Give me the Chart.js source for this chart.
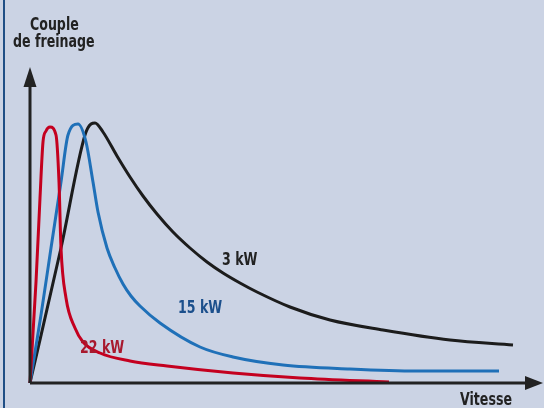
<!DOCTYPE html>
<html>
<head>
<meta charset="utf-8">
<script src="https://cdn.jsdelivr.net/npm/chart.js@4/dist/chart.umd.min.js"></script>
<style>
  html, body { margin: 0; padding: 0; background: #cbd3e4; }
  #wrap { width: 544px; height: 408px; position: relative; }
</style>
</head>
<body>
<div id="wrap"><canvas id="brakeChart" width="544" height="408"></canvas></div>
<script>
// speed / braking torque, arbitrary units
const speed22 = [0, 6, 10, 13, 16, 20, 26, 29, 31, 36, 45, 53, 70, 100, 137, 203, 270, 359];
const torque22 = [0, 101, 185, 241, 252, 256, 248, 201, 135, 85, 55, 41, 30, 22, 17, 10, 5, 1];

const speed15 = [0, 11, 21, 31, 38, 48, 56, 63, 68, 77, 85, 93, 101, 110, 130, 170, 203, 253, 320, 387, 469];
const torque15 = [0, 68, 135, 201, 248, 259, 241, 201, 171, 135, 115, 99, 87, 77, 60, 36, 26, 18, 14, 12, 12];

const speed3 = [0, 31, 55, 61, 65, 73, 87, 100, 113, 127, 143, 160, 177, 193, 210, 227, 260, 300, 353, 420, 483];
const torque3 = [0, 135, 248, 259, 260, 251, 227, 206, 187, 169, 151, 135, 121, 110, 100, 91, 76, 63, 53, 43, 38];

const seriesLabels = ['22 kW', '15 kW', '3 kW'];
const seriesColors = ['#c4001f', '#1f70b8', '#1c1c1c'];
const labelColors = ['#a8192e', '#1b4f8c', '#222222'];

const FONT = 'bold 18px "DejaVu Sans", sans-serif';
const SQUEEZE = 0.7;

function toPoints(xs, ys) {
    return xs.map((x, i) => ({ x: x, y: ys[i] }));
}

// narrow bold text, the picture uses a condensed face
function narrowText(ctx, text, x, y, color) {
    ctx.save();
    ctx.fillStyle = color;
    ctx.font = FONT;
    ctx.textAlign = 'left';
    ctx.textBaseline = 'alphabetic';
    ctx.translate(x, y);
    ctx.scale(SQUEEZE, 1);
    ctx.fillText(text, 0, 0);
    ctx.restore();
}

const frame = {
    id: 'frame',
    beforeDraw(chart) {
        const ctx = chart.ctx;
        ctx.save();
        ctx.fillStyle = '#cbd3e4';
        ctx.fillRect(0, 0, chart.width, chart.height);
        ctx.fillStyle = '#1f4e85';
        ctx.fillRect(3, 0, 2, chart.height);
        ctx.restore();
    },
    afterDatasetsDraw(chart) {
        const ctx = chart.ctx;
        const xs = chart.scales.x;
        const ys = chart.scales.y;
        const x0 = xs.getPixelForValue(0);
        const y0 = ys.getPixelForValue(0);
        const area = chart.chartArea;
        ctx.save();
        ctx.strokeStyle = '#222';
        ctx.fillStyle = '#222';
        ctx.lineWidth = 3;
        ctx.beginPath();
        ctx.moveTo(x0, y0);
        ctx.lineTo(x0, area.top + 18);
        ctx.moveTo(x0, y0);
        ctx.lineTo(area.right - 16, y0);
        ctx.stroke();
        // arrow heads
        ctx.beginPath();
        ctx.moveTo(x0, area.top);
        ctx.lineTo(x0 - 6.5, area.top + 20);
        ctx.lineTo(x0 + 6.5, area.top + 20);
        ctx.closePath();
        ctx.fill();
        ctx.beginPath();
        ctx.moveTo(area.right, y0);
        ctx.lineTo(area.right - 18, y0 - 7);
        ctx.lineTo(area.right - 18, y0 + 7);
        ctx.closePath();
        ctx.fill();
        ctx.restore();

        narrowText(ctx, 'Couple', 30, 30, '#222');
        narrowText(ctx, 'de freinage', 13, 47, '#222');
        narrowText(ctx, 'Vitesse', 460, 405, '#222');

        const spots = [[80, 353], [178, 313], [222, 265]];
        spots.forEach((p, i) => narrowText(ctx, seriesLabels[i], p[0], p[1], labelColors[i]));
    }
};

new Chart(document.getElementById('brakeChart'), {
    type: 'line',
    data: {
        datasets: [
            { label: seriesLabels[0], data: toPoints(speed22, torque22), borderColor: seriesColors[0] },
            { label: seriesLabels[1], data: toPoints(speed15, torque15), borderColor: seriesColors[1] },
            { label: seriesLabels[2], data: toPoints(speed3, torque3), borderColor: seriesColors[2] }
        ]
    },
    options: {
        responsive: false,
        animation: false,
        layout: { padding: { left: 30, right: 1, top: 67, bottom: 25 } },
        elements: {
            point: { radius: 0 },
            line: { borderWidth: 3, cubicInterpolationMode: 'monotone', fill: false }
        },
        datasets: { line: { clip: false } },
        plugins: {
            legend: { display: false },
            tooltip: { enabled: false }
        },
        scales: {
            x: { type: 'linear', display: false, min: 0, max: 513 },
            y: { type: 'linear', display: false, min: 0, max: 316 }
        }
    },
    plugins: [frame]
});
</script>
</body>
</html>
